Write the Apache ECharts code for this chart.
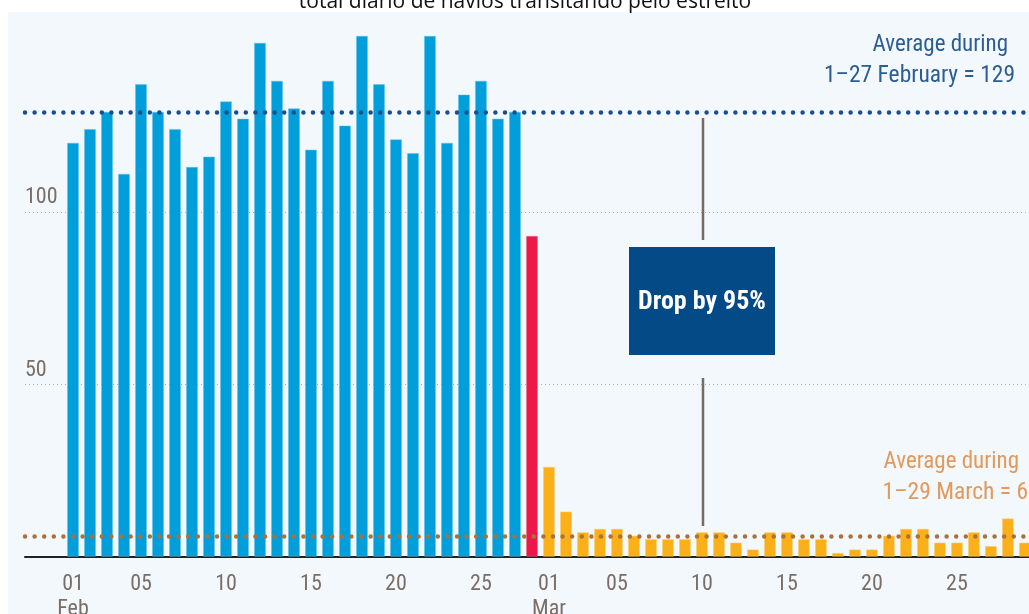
<!DOCTYPE html>
<html>
<head>
<meta charset="utf-8">
<script src="https://cdn.jsdelivr.net/npm/echarts@6/dist/echarts.min.js"></script>
<style>
  html, body { margin: 0; padding: 0; background: #fff; }
  #main { width: 1029px; height: 614px; }
</style>
</head>
<body>
<div id="main"></div>
<script>
// navios por dia: 1-27 fev (azul), 28 fev (vermelho), 1-29 mar (laranja)
var febValues = [120, 124, 129, 111, 137, 129, 124, 113, 116, 132, 127, 149, 138, 130,
  118, 138, 125, 151, 137, 121, 117, 151, 120, 134, 138, 127, 129]
var dropValue = 93
var marValues = [26, 13, 7, 8, 8, 6, 5, 5, 5, 7, 7, 4, 2, 7, 7, 5, 5, 1, 2, 2,
  6, 8, 8, 4, 4, 7, 3, 11, 4]
var febAverage = 129
var marAverage = 6
// posicao do dia (1 fev = 0) e texto dos rotulos do eixo x
var tickIndex = [0, 4, 9, 14, 19, 24, 28, 32, 37, 42, 47, 52]
var tickLabels = ['01\nFeb', '05', '10', '15', '20', '25', '01\nMar', '05', '10', '15', '20', '25']
var yLabels = [50, 100]

var narrow = '"Liberation Sans Narrow", "Roboto Condensed", Roboto, sans-serif'
var labelColor = '#7a6e66'

var febData = febValues.map(function (v, i) { return [i, v] })
var dropData = [[febValues.length, dropValue]]
var marData = marValues.map(function (v, i) { return [febValues.length + 1 + i, v] })

var myChart = echarts.init(document.getElementById('main'))
myChart.setOption({
  animation: false,
  backgroundColor: '#fff',
  grid: { left: 25, right: 0, top: 12, bottom: 57.5, outerBoundsMode: 'none', containLabel: false },
  xAxis: {
    type: 'value',
    min: -2.824,
    max: 56.24,
    splitLine: { show: false },
    axisLine: { show: true, onZero: false, lineStyle: { color: '#222', width: 2 } },
    axisTick: { show: false, customValues: tickIndex },
    axisLabel: {
      customValues: tickIndex,
      color: labelColor,
      fontFamily: narrow,
      fontSize: 22,
      lineHeight: 25,
      margin: 15,
      formatter: function (v) {
        var k = tickIndex.indexOf(Math.round(v))
        return k >= 0 ? tickLabels[k] : ''
      }
    }
  },
  yAxis: {
    type: 'value',
    min: 0,
    max: 158,
    axisLine: { show: false },
    axisTick: { show: false, customValues: yLabels },
    splitLine: { show: true, lineStyle: { color: '#b8b0a8', type: [1, 3], width: 1 } },
    axisLabel: {
      customValues: yLabels,
      inside: true,
      align: 'left',
      verticalAlign: 'bottom',
      margin: 0,
      padding: [0, 0, 3, 0],
      color: labelColor,
      fontFamily: narrow,
      fontSize: 22
    }
  },
  graphic: [
    { type: 'rect', z: -10, shape: { x: 8, y: 12, width: 1100, height: 700 }, style: { fill: '#f3f8fc' } },
    {
      type: 'text', z: 10, x: 525, y: 13,
      style: { text: 'total diário de navios transitando pelo estreito', align: 'center', verticalAlign: 'bottom',
        font: '21px "Open Sans", "Noto Sans", sans-serif', fill: '#111' }
    },
    { type: 'text', z: 10, x: 1008, y: 45, style: { text: 'Average during', align: 'right', verticalAlign: 'middle', font: '23px ' + narrow, fill: '#2d5d95' } },
    { type: 'text', z: 10, x: 1015, y: 76, style: { text: '1–27 February = 129', align: 'right', verticalAlign: 'middle', font: '23.5px ' + narrow, fill: '#2d5d95' } },
    { type: 'text', z: 10, x: 1019, y: 462, style: { text: 'Average during', align: 'right', verticalAlign: 'middle', font: '23px ' + narrow, fill: '#e3995a' } },
    { type: 'text', z: 10, x: 1028, y: 493, style: { text: '1–29 March = 6', align: 'right', verticalAlign: 'middle', font: '23.5px ' + narrow, fill: '#e3995a' } },
    { type: 'line', z: 10, shape: { x1: 703, y1: 118, x2: 703, y2: 240 }, style: { stroke: '#766a62', lineWidth: 2.5 } },
    { type: 'line', z: 10, shape: { x1: 703, y1: 378, x2: 703, y2: 526 }, style: { stroke: '#766a62', lineWidth: 2.5 } },
    { type: 'rect', z: 10, shape: { x: 629, y: 247, width: 146, height: 108 }, style: { fill: '#034a86' } },
    { type: 'text', z: 11, x: 702, y: 302, style: { text: 'Drop by 95%', align: 'center', verticalAlign: 'middle', font: 'bold 26px ' + narrow, fill: '#fff' } }
  ],
  series: [
    {
      type: 'bar', stack: 'all', barWidth: 11.5, data: febData,
      itemStyle: { color: '#009fdb', borderColor: '#5cc2ea', borderWidth: 0.5 },
      markLine: {
        silent: true, symbol: 'none', label: { show: false },
        lineStyle: { color: '#1b4f8c', type: [0, 9.6], cap: 'round', width: 4.5 },
        data: [{ yAxis: febAverage }]
      }
    },
    {
      type: 'bar', stack: 'all', barWidth: 11.5, data: dropData,
      itemStyle: { color: '#ee1848', borderColor: '#f56a88', borderWidth: 0.5 }
    },
    {
      type: 'bar', stack: 'all', barWidth: 11.5, data: marData,
      itemStyle: { color: '#fbb019', borderColor: '#fcd06e', borderWidth: 0.5 },
      markLine: {
        silent: true, symbol: 'none', label: { show: false }, z: 5,
        lineStyle: { color: '#a9713c', type: [0, 9.6], cap: 'round', width: 4.5 },
        data: [{ yAxis: marAverage }]
      }
    }
  ]
})
</script>
</body>
</html>
